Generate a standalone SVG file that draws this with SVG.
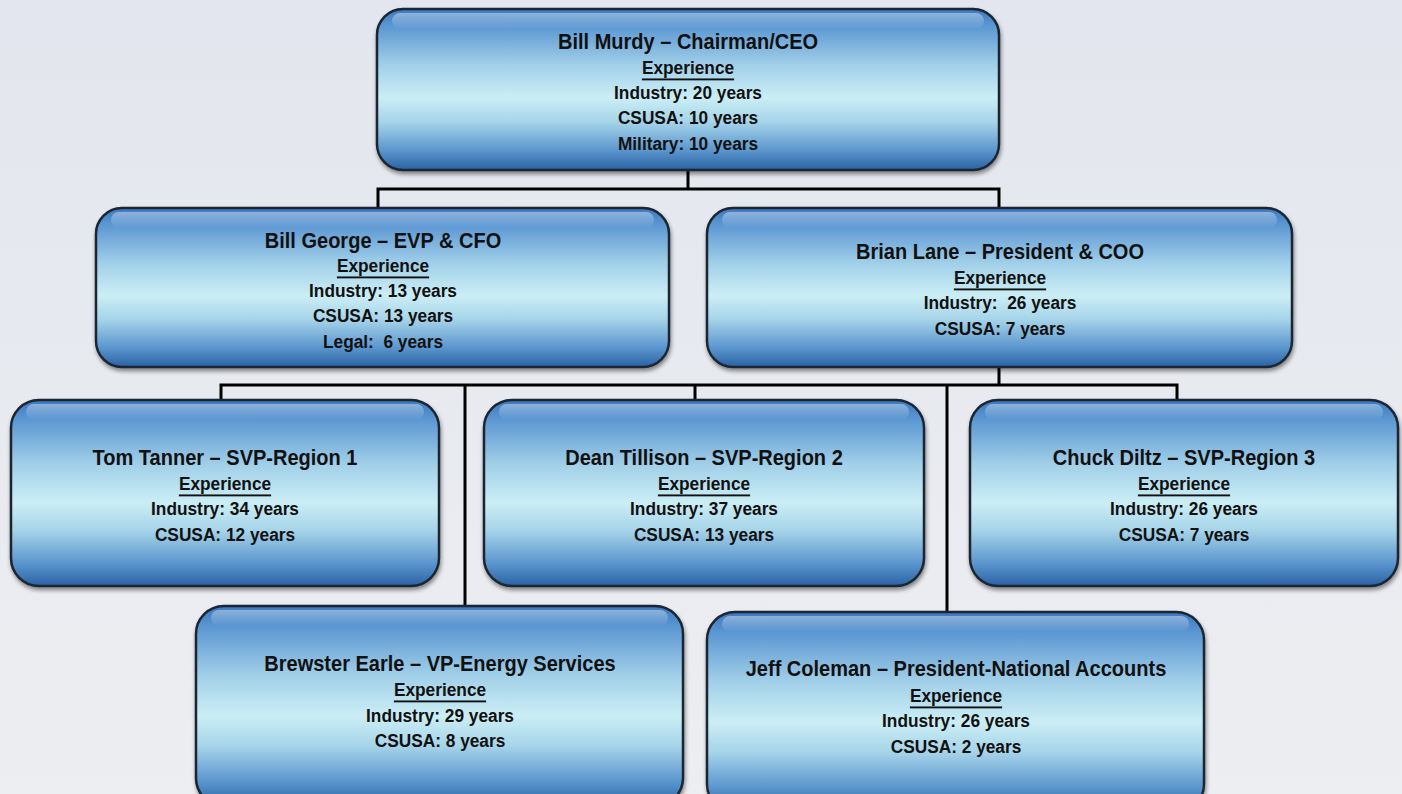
<svg xmlns="http://www.w3.org/2000/svg" width="1402" height="794" viewBox="0 0 1402 794">
<defs>
<linearGradient id="bg" x1="0" y1="0" x2="0" y2="1">
<stop offset="0" stop-color="#e3e6ee"/>
<stop offset="1" stop-color="#eceef1"/>
</linearGradient>
<linearGradient id="box" x1="0" y1="0" x2="0" y2="1">
<stop offset="0" stop-color="#3b78bf"/>
<stop offset="0.1" stop-color="#5a96d2"/>
<stop offset="0.35" stop-color="#a2d0e9"/>
<stop offset="0.55" stop-color="#cbeef5"/>
<stop offset="0.7" stop-color="#a6d4e9"/>
<stop offset="0.88" stop-color="#5a95cd"/>
<stop offset="1" stop-color="#2a62a4"/>
</linearGradient>
<linearGradient id="gloss" x1="0" y1="0" x2="0" y2="1">
<stop offset="0" stop-color="#ffffff" stop-opacity="0.4"/>
<stop offset="1" stop-color="#ffffff" stop-opacity="0"/>
</linearGradient>
<filter id="sh" x="-5%" y="-5%" width="110%" height="115%">
<feGaussianBlur in="SourceAlpha" stdDeviation="2"/>
<feOffset dx="1" dy="3" result="o"/>
<feComponentTransfer><feFuncA type="linear" slope="0.45"/></feComponentTransfer>
<feMerge><feMergeNode/><feMergeNode in="SourceGraphic"/></feMerge>
</filter>
</defs>
<style>
.b{fill:url(#box);stroke:#1b2530;stroke-width:2.5;filter:url(#sh)}
.g{fill:url(#gloss);stroke:none}
text{font-family:"Liberation Sans",Arial,sans-serif;font-weight:bold;fill:#111;text-anchor:middle;dominant-baseline:central}
.t{font-size:22px}
.l{font-size:19px}
.u{text-decoration:underline}
.c{fill:none;stroke:#000;stroke-width:3}
</style>
<rect width="1402" height="794" fill="url(#bg)"/>
<g id="connectors">
<path class="c" d="M688 170V189M378 208V189H999V208"/>
<path class="c" d="M999 367V385M221 400V385H1177V400M465 385V606M695 385V400M947 385V612"/>
</g>
<g id="n-murdy">
<rect class="b" x="377" y="9" width="622" height="161" rx="26"/>
<rect class="g" x="392" y="13" width="592" height="16" rx="8"/>
<g transform="translate(688 0) scale(0.91 1)">
<text class="t" x="0" y="41">Bill Murdy – Chairman/CEO</text>
<text class="l u" x="0" y="68">Experience</text>
<text class="l" x="0" y="93">Industry: 20 years</text>
<text class="l" x="0" y="118">CSUSA: 10 years</text>
<text class="l" x="0" y="144">Military: 10 years</text>
</g>
</g>
<g id="n-george">
<rect class="b" x="96" y="208" width="573" height="159" rx="26"/>
<rect class="g" x="111" y="212" width="543" height="16" rx="8"/>
<g transform="translate(383 0) scale(0.91 1)">
<text class="t" x="0" y="240">Bill George – EVP &amp; CFO</text>
<text class="l u" x="0" y="266">Experience</text>
<text class="l" x="0" y="291">Industry: 13 years</text>
<text class="l" x="0" y="316">CSUSA: 13 years</text>
<text class="l" x="0" y="342" xml:space="preserve">Legal:  6 years</text>
</g>
</g>
<g id="n-lane">
<rect class="b" x="707" y="208" width="585" height="159" rx="26"/>
<rect class="g" x="722" y="212" width="555" height="16" rx="8"/>
<g transform="translate(1000 0) scale(0.91 1)">
<text class="t" x="0" y="251">Brian Lane – President &amp; COO</text>
<text class="l u" x="0" y="278">Experience</text>
<text class="l" x="0" y="303" xml:space="preserve">Industry:  26 years</text>
<text class="l" x="0" y="329">CSUSA: 7 years</text>
</g>
</g>
<g id="n-tanner">
<rect class="b" x="11" y="400" width="428" height="186" rx="28"/>
<rect class="g" x="26" y="404" width="398" height="16" rx="8"/>
<g transform="translate(225 0) scale(0.91 1)">
<text class="t" x="0" y="457">Tom Tanner – SVP-Region 1</text>
<text class="l u" x="0" y="484">Experience</text>
<text class="l" x="0" y="509">Industry: 34 years</text>
<text class="l" x="0" y="535">CSUSA: 12 years</text>
</g>
</g>
<g id="n-tillison">
<rect class="b" x="484" y="400" width="440" height="186" rx="28"/>
<rect class="g" x="499" y="404" width="410" height="16" rx="8"/>
<g transform="translate(704 0) scale(0.91 1)">
<text class="t" x="0" y="457">Dean Tillison – SVP-Region 2</text>
<text class="l u" x="0" y="484">Experience</text>
<text class="l" x="0" y="509">Industry: 37 years</text>
<text class="l" x="0" y="535">CSUSA: 13 years</text>
</g>
</g>
<g id="n-diltz">
<rect class="b" x="970" y="400" width="428" height="186" rx="28"/>
<rect class="g" x="985" y="404" width="398" height="16" rx="8"/>
<g transform="translate(1184 0) scale(0.91 1)">
<text class="t" x="0" y="457">Chuck Diltz – SVP-Region 3</text>
<text class="l u" x="0" y="484">Experience</text>
<text class="l" x="0" y="509">Industry: 26 years</text>
<text class="l" x="0" y="535">CSUSA: 7 years</text>
</g>
</g>
<g id="n-earle">
<rect class="b" x="196" y="606" width="487" height="200" rx="28"/>
<rect class="g" x="211" y="610" width="457" height="16" rx="8"/>
<g transform="translate(440 0) scale(0.91 1)">
<text class="t" x="0" y="663">Brewster Earle – VP-Energy Services</text>
<text class="l u" x="0" y="690">Experience</text>
<text class="l" x="0" y="716">Industry: 29 years</text>
<text class="l" x="0" y="741">CSUSA: 8 years</text>
</g>
</g>
<g id="n-coleman">
<rect class="b" x="707" y="612" width="497" height="200" rx="28"/>
<rect class="g" x="722" y="616" width="467" height="16" rx="8"/>
<g transform="translate(956 0) scale(0.91 1)">
<text class="t" x="0" y="668">Jeff Coleman – President-National Accounts</text>
<text class="l u" x="0" y="696">Experience</text>
<text class="l" x="0" y="721">Industry: 26 years</text>
<text class="l" x="0" y="747">CSUSA: 2 years</text>
</g>
</g>
</svg>
